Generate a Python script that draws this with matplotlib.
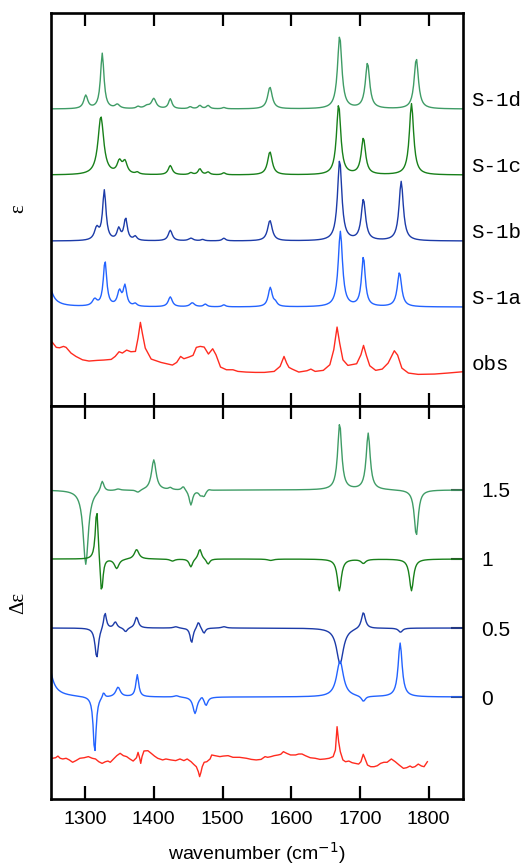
import numpy as np
import matplotlib.pyplot as plt

# wavenumber window
wn_min, wn_max = 1250, 1850

# calculated spectra: peak tables (centre cm-1, height, FWHM cm-1)
ir_s1d = [(1301, 0.20, 7), (1325, 0.84, 6), (1347, 0.06, 8), (1377, 0.03, 6),
          (1390, 0.04, 10), (1400, 0.15, 8), (1424, 0.15, 6), (1453, 0.03, 6),
          (1467, 0.05, 6), (1479, 0.05, 6), (1502, 0.02, 6), (1569, 0.33, 8),
          (1670.5, 1.10, 7.5), (1711, 0.69, 7.5), (1782, 0.76, 7.5)]
ir_s1c = [(1323, 0.88, 10), (1350, 0.18, 8), (1358, 0.18, 8), (1376, 0.03, 6),
          (1424, 0.14, 7), (1454, 0.03, 6), (1467, 0.09, 6), (1479, 0.04, 6),
          (1502, 0.03, 6), (1569, 0.35, 8), (1669, 1.06, 7.5), (1705, 0.55, 7.5),
          (1775, 1.08, 7.5)]
ir_s1b = [(1317, 0.18, 8), (1328, 0.75, 6), (1349, 0.17, 6), (1359, 0.33, 6),
          (1373, 0.06, 6), (1424, 0.16, 7), (1454, 0.04, 8), (1471, 0.02, 6),
          (1502, 0.04, 6), (1569, 0.31, 8), (1670.5, 1.22, 7.5), (1705, 0.62, 7.5),
          (1760, 0.90, 7.5)]
ir_s1a = [(1240, 1.5, 10), (1314, 0.10, 8), (1329, 0.68, 6), (1350, 0.22, 7),
          (1358, 0.30, 6), (1373, 0.04, 6), (1424, 0.15, 7), (1456, 0.06, 8),
          (1475, 0.04, 6), (1502, 0.03, 6), (1569.5, 0.29, 7), (1577, 0.05, 6),
          (1671.5, 1.14, 7.5), (1705, 0.75, 6.5), (1757.5, 0.52, 7.5)]

cd_s1d = [(1301, -0.54, 9), (1325, 0.08, 6), (1348, 0.01, 8), (1377, -0.02, 8),
          (1400, 0.22, 8), (1424, 0.015, 6), (1443, 0.03, 6), (1454, -0.11, 6),
          (1468, -0.03, 6), (1473, -0.04, 6), (1480, 0.01, 6), (1670.5, 0.48, 7),
          (1712, 0.41, 7), (1782, -0.33, 7)]
cd_s1c = [(1317, 0.38, 5), (1324, -0.275, 5), (1346, -0.07, 8), (1375, 0.07, 8),
          (1427, -0.015, 8), (1454, -0.06, 6), (1467, 0.075, 6), (1479, -0.04, 6),
          (1570, -0.01, 10), (1670, -0.23, 7), (1705, -0.03, 8), (1775, -0.23, 7)]
cd_s1b = [(1317, -0.22, 6), (1329, 0.12, 5), (1344, 0.045, 6), (1359, -0.03, 6),
          (1375, 0.08, 6), (1432, 0.01, 8), (1455, -0.11, 5), (1465, 0.05, 5),
          (1473, -0.04, 5), (1502, 0.01, 8), (1671, -0.26, 12), (1705, 0.12, 7),
          (1759, -0.03, 7)]
cd_s1a = [(1240, 1.0, 10), (1314, -0.41, 5), (1327, 0.04, 4), (1348, 0.07, 8),
          (1376, 0.16, 5), (1433, 0.01, 8), (1460, -0.12, 7), (1470, 0.02, 5),
          (1476, -0.06, 6), (1671, 0.26, 12), (1705, -0.04, 7), (1758.5, 0.39, 7)]

# observed spectra, read point by point
obs_ir_wn = [1250, 1252.4, 1258.1, 1262.9, 1268.6, 1272.4, 1279.5, 1286.7, 1296.2,
             1305.7, 1317.6, 1327.1, 1338.1, 1343.8, 1349.5, 1354.3, 1360.5, 1366.7,
             1373.3, 1377.1, 1380.5, 1383.3, 1387.6, 1396.2, 1410.5, 1427.1, 1433.3,
             1439, 1443.8, 1451, 1457.1, 1461.9, 1467.6, 1473.3, 1479.5, 1485.7,
             1490.5, 1497.1, 1505.7, 1515.2, 1522.4, 1534.3, 1547.6, 1561, 1575.2,
             1583.8, 1589.5, 1593.3, 1596.7, 1601.4, 1611, 1622.9, 1628.6, 1634.8,
             1646.7, 1656.2, 1661.9, 1666.7, 1670.5, 1675.2, 1682.4, 1695.2, 1701.4,
             1705.2, 1709.5, 1714.3, 1722.9, 1732.4, 1741, 1750, 1754.8, 1761,
             1770.5, 1784.8, 1808.6, 1827.6, 1850]
obs_ir = [0.45, 0.435, 0.359, 0.353, 0.374, 0.359, 0.273, 0.222, 0.171,
          0.152, 0.162, 0.167, 0.177, 0.222, 0.293, 0.273, 0.318, 0.293,
          0.298, 0.5, 0.738, 0.576, 0.348, 0.182, 0.131, 0.091, 0.131,
          0.222, 0.187, 0.212, 0.238, 0.359, 0.374, 0.364, 0.258, 0.338,
          0.247, 0.061, 0.02, 0.02, -0.005, -0.015, -0.02, -0.02, -0.005,
          0.071, 0.222, 0.121, 0.056, 0.03, -0.015, 0.005, 0.03, -0.005,
          0.011, 0.096, 0.323, 0.667, 0.424, 0.171, 0.086, 0.111, 0.247,
          0.389, 0.232, 0.08, 0.011, 0.03, 0.121, 0.308, 0.242, 0.045,
          -0.03, -0.05, -0.045, -0.03, -0.01]

obs_cd_wn = [1250, 1252.4, 1257.1, 1260.5, 1263.8, 1267.6, 1272.4, 1277.1, 1281.9,
             1286.7, 1292.4, 1298.6, 1304.8, 1310.5, 1315.2, 1320, 1324.8, 1329.5,
             1333.3, 1336.7, 1341.4, 1346.2, 1351, 1355.7, 1360.5, 1365.2, 1370,
             1374.8, 1377.1, 1379.5, 1381, 1382.9, 1385.7, 1391.4, 1396.2, 1401,
             1405.7, 1412.9, 1417.6, 1424.8, 1431.9, 1438.1, 1443.8, 1448.6, 1454.3,
             1458.1, 1461.9, 1464.8, 1466.7, 1468.6, 1470.5, 1473.3, 1477.1, 1481.9,
             1484.3, 1489, 1496.2, 1501, 1508.1, 1515.2, 1524.8, 1534.8, 1541.9,
             1549, 1556.2, 1561.9, 1565.7, 1570.5, 1575.2, 1581, 1584.8, 1588.6,
             1593.3, 1599, 1606.2, 1611, 1615.7, 1620.5, 1627.6, 1634.8, 1641.9,
             1649, 1655.2, 1661, 1664.3, 1666.7, 1669, 1671.4, 1675.2, 1679,
             1683.8, 1688.6, 1693.3, 1698.1, 1701.4, 1704.8, 1707.6, 1711, 1715.7,
             1720.5, 1725.2, 1730, 1734.8, 1739.5, 1745.7, 1751.4, 1757.1, 1763.3,
             1768.1, 1772.9, 1776.2, 1780, 1784.8, 1789.5, 1793.3, 1798.1]
obs_cd = [0.006, 0.006, 0.010, 0.022, 0.006, 0.001, 0.006, -0.006, -0.023,
          -0.011, 0.006, 0.010, 0.018, 0.006, 0.001, -0.019, -0.031, -0.019,
          -0.014, -0.023, 0.001, 0.025, 0.042, 0.025, 0.018, 0.001, -0.014,
          0.010, 0.049, 0.006, -0.031, 0.018, 0.059, 0.061, 0.042, 0.022,
          0.006, -0.006, 0.001, -0.006, -0.011, 0.001, -0.011, 0.001, -0.019,
          -0.038, -0.055, -0.091, -0.127, -0.096, -0.055, -0.023, -0.019, 0.001,
          0.030, 0.025, 0.018, 0.022, 0.025, 0.013, 0.013, 0.006, -0.002,
          -0.006, -0.002, 0.018, 0.013, 0.018, 0.025, 0.030, 0.035, 0.054,
          0.042, 0.030, 0.030, 0.037, 0.037, 0.025, 0.010, 0.006, -0.002,
          0.001, 0.006, 0.018, 0.066, 0.235, 0.126, 0.054, -0.006, -0.019,
          -0.014, -0.026, -0.031, -0.036, -0.019, 0.035, 0.001, -0.043, -0.055,
          -0.055, -0.048, -0.031, -0.023, -0.023, 0.001, -0.019, -0.043, -0.067,
          -0.062, -0.050, -0.060, -0.055, -0.036, -0.050, -0.055, -0.019]

labels = ['S-1d', 'S-1c', 'S-1b', 'S-1a', 'obs']
ir_offsets = [4, 3, 2, 1, 0.03]
cd_offsets = [1.5, 1.0, 0.5, 0.0, -0.45]
cd_ticks = [0, 0.5, 1, 1.5]
cd_ticklabels = ['0', '0.5', '1', '1.5']
xticks = [1300, 1400, 1500, 1600, 1700, 1800]
colors = ['#3f9c66', '#18801a', '#1c3ba8', '#2363ff', '#ff2b1f']


def lorentz_sum(x, peaks):
    y = np.zeros_like(x)
    for c, h, w in peaks:
        g = w / 2.0
        y += h * g**2 / ((x - c)**2 + g**2)
    return y


x = np.arange(wn_min, wn_max + 1, 1.5)

fig = plt.figure(figsize=(5.31, 8.68), dpi=100)
ax1 = fig.add_axes([0.0955, 0.5328, 0.7765, 0.4522])
ax2 = fig.add_axes([0.0955, 0.0795, 0.7765, 0.4533])

# IR panel
for peaks, off, col in zip([ir_s1d, ir_s1c, ir_s1b, ir_s1a], ir_offsets[:4], colors[:4]):
    ax1.plot(x, lorentz_sum(x, peaks) + off, color=col, lw=1.0)
ax1.plot(obs_ir_wn, np.array(obs_ir) + ir_offsets[4], color=colors[4], lw=1.0)

for lab, off in zip(labels, [4, 3, 2, 1, 0]):
    ax1.text(1.02, off + 0.05, lab, transform=ax1.get_yaxis_transform(),
             family='Liberation Mono', fontsize=15, va='baseline', ha='left')

ax1.set_xlim(wn_min, wn_max)
ax1.set_ylim(-0.492, 5.455)
ax1.set_xticks(xticks)
ax1.set_yticks([])
ax1.tick_params(axis='x', direction='in', top=True, bottom=True, length=9.5,
                width=1.6, labelbottom=False)

# VCD panel
for peaks, off, col in zip([cd_s1d, cd_s1c, cd_s1b, cd_s1a], cd_offsets[:4], colors[:4]):
    ax2.plot(x, lorentz_sum(x, peaks) + off, color=col, lw=1.0)
ax2.plot(obs_cd_wn, np.array(obs_cd) + cd_offsets[4], color=colors[4], lw=1.0)

ax2.set_xlim(wn_min, wn_max)
ax2.set_ylim(-0.739, 2.112)
ax2.set_xticks(xticks)
ax2.set_xticklabels([str(t) for t in xticks], family='Liberation Sans', fontsize=14)
ax2.tick_params(axis='x', direction='in', top=True, bottom=True, length=9.5,
                width=1.6, pad=9)
ax2.yaxis.tick_right()
ax2.set_yticks(cd_ticks)
ax2.set_yticklabels(cd_ticklabels, family='Liberation Sans', fontsize=15)
ax2.tick_params(axis='y', direction='in', length=9, width=1.5, color='#333333', pad=13)
ax2.set_xlabel('wavenumber (cm$^{-1}$)', family='Liberation Sans', fontsize=14,
               labelpad=8)

for ax in (ax1, ax2):
    for sp in ax.spines.values():
        sp.set_linewidth(1.9)

fig.text(18.7 / 531, 1 - 209 / 868, 'ε', family='Liberation Serif', fontsize=15,
         rotation=90, ha='center', va='center')
fig.text(18.7 / 531, 1 - 603 / 868, 'Δε', family='Liberation Serif', fontsize=15,
         rotation=90, ha='center', va='center')

fig.savefig('out.png', dpi=100)
